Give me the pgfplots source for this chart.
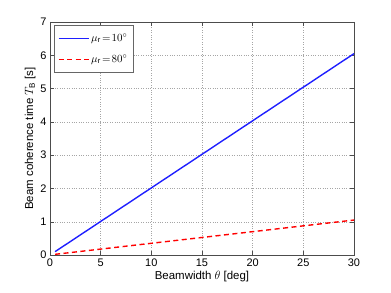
\documentclass[border=0pt]{standalone}
\usepackage{pgfplots}
\pgfplotsset{compat=1.18}
\usepackage{fontspec}
\setmainfont{Liberation Sans}
\begin{document}
\begin{tikzpicture}
\begin{axis}[
  scale only axis,
  width=304bp, height=233bp,
  xmin=0, xmax=30, ymin=0, ymax=7,
  xtick={0,5,...,30}, ytick={0,1,...,7},
  /pgf/number format/assume math mode=true,
  tick align=inside,
  major tick length=4bp,
  tick style={black!70, thin},
  grid=major,
  major grid style={dotted, gray!70},
  axis line style={black!70},
  ticklabel style={font=\fontsize{11}{13}\selectfont},
  xlabel={Beamwidth $\theta$ [deg]},
  ylabel={Beam coherence time $T_{\mathrm{B}}$ [s]},
  label style={font=\fontsize{11.5}{13}\selectfont},
  xlabel style={yshift=2bp},
  ylabel style={yshift=-2bp},
  legend pos=north west,
  legend style={draw=black!60, font=\fontsize{11}{13}\selectfont, row sep=8pt, inner xsep=4pt, inner ysep=6pt, at={(0.012,0.985)}},
  legend cell align=left,
  legend image code/.code={\draw[#1] (0cm,0cm) -- (30bp,0cm);},
]
\addplot[blue!88!white, line width=1.4pt] coordinates {(0.5,0.1) (30,6.05)};
\addlegendentry{$\mu_{\mathrm{r}}\!=\!10^{\circ}$}
\addplot[red, line width=1.4pt, dash pattern=on 5bp off 3.5bp] coordinates {(0.5,0.02) (30,1.05)};
\addlegendentry{$\mu_{\mathrm{r}}\!=\!80^{\circ}$}
\end{axis}
\path (current axis.south west) +(-50bp,-38bp) (current axis.north east) +(37bp,22bp);
\end{tikzpicture}
\end{document}
